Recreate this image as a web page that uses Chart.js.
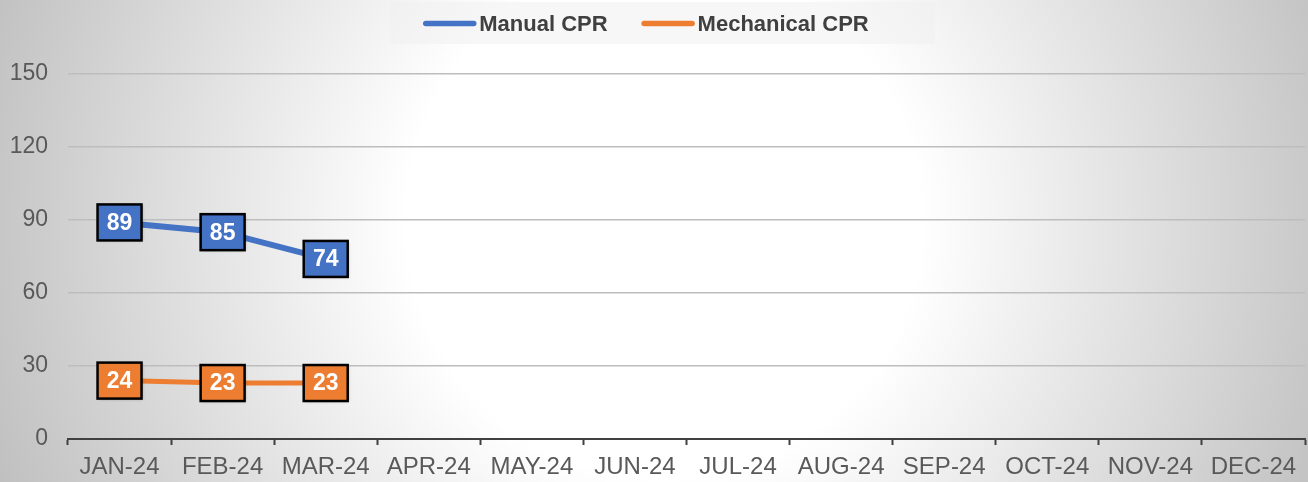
<!DOCTYPE html>
<html>
<head>
<meta charset="utf-8">
<script src="https://cdn.jsdelivr.net/npm/chart.js@4/dist/chart.umd.min.js"></script>
<style>
  html, body { margin: 0; padding: 0; background: #fff; }
  #wrap { position: relative; width: 1308px; height: 482px; }
</style>
</head>
<body>
<div id="wrap"><canvas id="c" width="1308" height="482"></canvas></div>
<script>
const categories = ['JAN-24','FEB-24','MAR-24','APR-24','MAY-24','JUN-24','JUL-24','AUG-24','SEP-24','OCT-24','NOV-24','DEC-24'];
const manualCPR = [89, 85, 74, null, null, null, null, null, null, null, null, null];
const mechanicalCPR = [24, 23, 23, null, null, null, null, null, null, null, null, null];
const seriesNames = ['Manual CPR', 'Mechanical CPR'];
const seriesColors = ['#4472C4', '#ED7D31'];
const yTicks = [0, 30, 60, 90, 120, 150];

const FONT = '"Liberation Sans", Arial, Helvetica, sans-serif';

const bgPlugin = {
  id: 'bg',
  beforeDraw(chart) {
    const { ctx, width, height } = chart;
    const cx = width / 2 + 10, cy = height / 2 - 20;
    const r = Math.sqrt(cx * cx + (height - cy) * (height - cy));
    const g = ctx.createRadialGradient(cx, cy, 0, cx, cy, r);
    g.addColorStop(0, '#ffffff');
    g.addColorStop(0.36, '#ffffff');
    g.addColorStop(1, '#c0c0c0');
    ctx.save();
    ctx.fillStyle = g;
    ctx.fillRect(0, 0, width, height);
    ctx.restore();
  }
};

const legendPlugin = {
  id: 'customLegend',
  afterDraw(chart) {
    const { ctx, width } = chart;
    ctx.save();
    ctx.font = 'bold 22px ' + FONT;
    const lineW = 53, gapText = 3, gapItem = 34;
    const items = chart.data.datasets.map(ds => ({ label: ds.label, color: ds.borderColor, w: ctx.measureText(ds.label).width }));
    let total = 0;
    items.forEach((it, i) => { total += lineW + gapText + it.w + (i < items.length - 1 ? gapItem : 0); });
    let x = width / 2 - 8 - total / 2;
    const cy = 23.5;
    ctx.fillStyle = 'rgba(240,240,240,0.5)';
    ctx.fillRect(x - 33, 2, total + 33 + 66, 42);
    items.forEach(it => {
      ctx.strokeStyle = it.color;
      ctx.lineWidth = 5.5;
      ctx.lineCap = 'round';
      ctx.beginPath();
      ctx.moveTo(x + 2.5, cy);
      ctx.lineTo(x + lineW - 2.5, cy);
      ctx.stroke();
      x += lineW + gapText;
      ctx.fillStyle = '#404040';
      ctx.textAlign = 'left';
      ctx.textBaseline = 'middle';
      ctx.fillText(it.label, x, cy + 1);
      x += it.w + gapItem;
    });
    ctx.restore();
  }
};

const labelPlugin = {
  id: 'boxLabels',
  afterDatasetsDraw(chart) {
    const { ctx } = chart;
    ctx.save();
    chart.data.datasets.forEach((ds, di) => {
      const meta = chart.getDatasetMeta(di);
      meta.data.forEach((pt, i) => {
        const v = ds.data[i];
        if (v === null || v === undefined) return;
        const w = 44, h = 36;
        const x = pt.x - w / 2, y = pt.y - h / 2;
        ctx.shadowColor = 'rgba(0,0,0,0.25)';
        ctx.shadowBlur = 3;
        ctx.shadowOffsetX = 1;
        ctx.shadowOffsetY = 1;
        ctx.fillStyle = ds.borderColor;
        ctx.fillRect(x, y, w, h);
        ctx.shadowColor = 'transparent';
        ctx.lineWidth = 2.5;
        ctx.strokeStyle = '#000000';
        ctx.strokeRect(x, y, w, h);
        ctx.fillStyle = '#ffffff';
        ctx.font = 'bold 23px ' + FONT;
        ctx.textAlign = 'center';
        ctx.textBaseline = 'middle';
        ctx.fillText(String(v), pt.x, pt.y + 1);
      });
    });
    ctx.restore();
  }
};

new Chart(document.getElementById('c'), {
  type: 'line',
  data: {
    labels: categories,
    datasets: [
      { label: seriesNames[0], data: manualCPR, borderColor: seriesColors[0], backgroundColor: seriesColors[0], borderWidth: 6, pointRadius: 0, tension: 0, borderCapStyle: 'round' },
      { label: seriesNames[1], data: mechanicalCPR, borderColor: seriesColors[1], backgroundColor: seriesColors[1], borderWidth: 5, pointRadius: 0, tension: 0, borderCapStyle: 'round' }
    ]
  },
  options: {
    responsive: false,
    animation: false,
    devicePixelRatio: 1,
    layout: { padding: { top: 74, right: 3, bottom: 0, left: 0 } },
    plugins: { legend: { display: false }, tooltip: { enabled: false } },
    scales: {
      x: {
        type: 'category',
        offset: true,
        grid: { offset: true, drawOnChartArea: false, drawTicks: true, tickLength: 6, color: '#404040', tickWidth: 2 },
        border: { display: true, color: '#404040', width: 2 },
        ticks: { color: '#595959', font: { family: FONT, size: 24 }, padding: 8, maxRotation: 0, autoSkip: false },
        afterFit(scale) { scale.height = 43; }
      },
      y: {
        min: 0, max: 150,
        afterBuildTicks(scale) { scale.ticks = yTicks.map(v => ({ value: v })); },
        grid: { color: '#bdbdbd', lineWidth: 1.5, drawTicks: false },
        border: { display: false },
        ticks: { color: '#595959', font: { family: FONT, size: 23 }, padding: 20 },
        afterFit(scale) { scale.width = 68; }
      }
    }
  },
  plugins: [bgPlugin, labelPlugin, legendPlugin]
});
</script>
</body>
</html>
